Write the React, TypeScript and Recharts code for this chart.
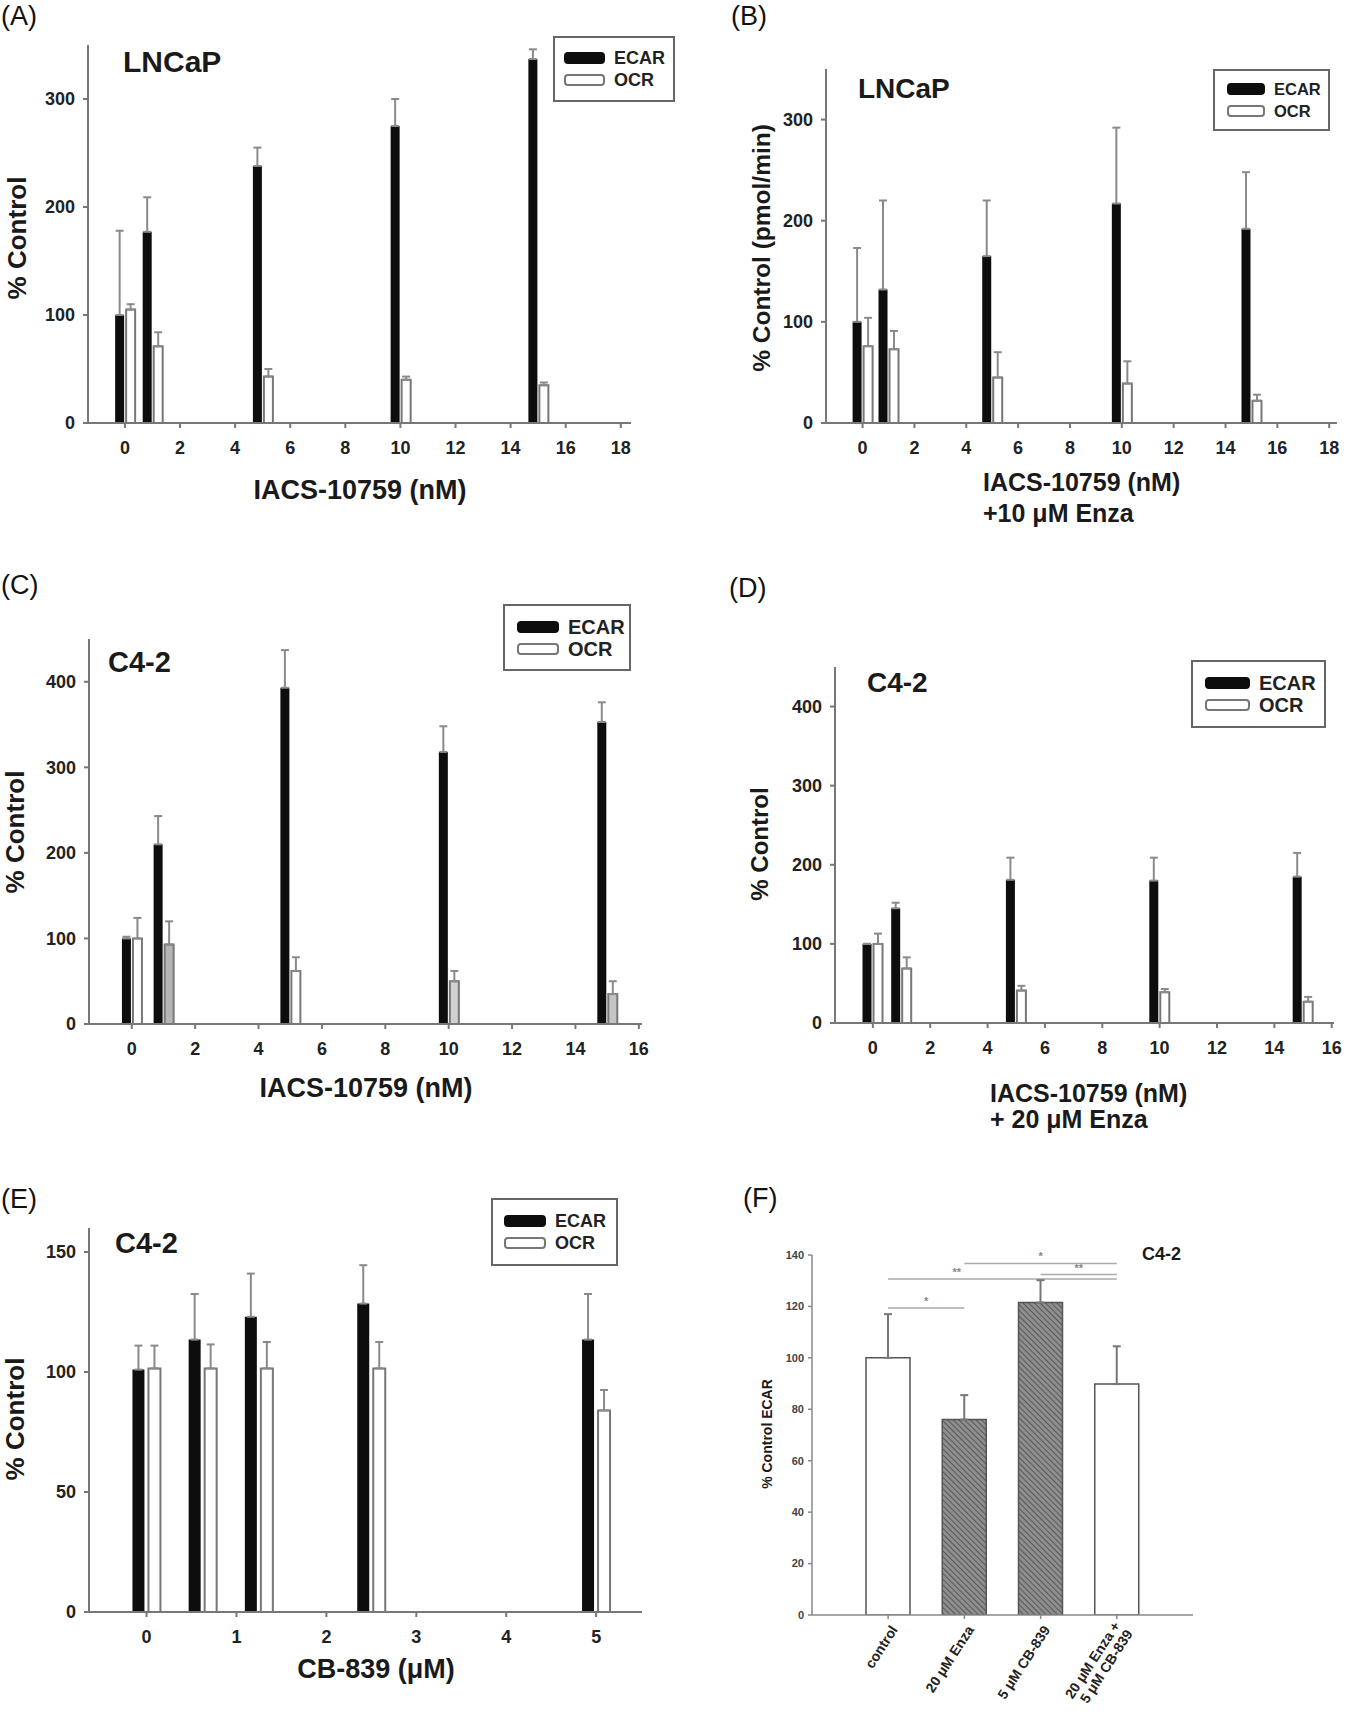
import React from "react";
import {
	BarChart,
	Bar,
	XAxis,
	YAxis,
	ErrorBar,
	Legend,
	Cell,
	ReferenceLine,
} from "recharts";

const FONT = '"Liberation Sans", Arial, Helvetica, sans-serif';

// (A) LNCaP
const A_DOSE = [0, 1, 5, 10, 15];
const A_ECAR = [100, 177, 238, 275, 337];
const A_ECAR_SD = [78, 32, 17, 25, 9];
const A_OCR = [105, 71, 43, 40, 35];
const A_OCR_SD = [5, 13, 7, 3, 2.5];

// (B) LNCaP + 10 uM Enza
const B_DOSE = [0, 1, 5, 10, 15];
const B_ECAR = [100, 132, 165, 217, 192];
const B_ECAR_SD = [73, 88, 55, 75, 56];
const B_OCR = [76, 73, 45, 39, 22];
const B_OCR_SD = [28, 18, 25, 22, 6];

// (C) C4-2
const C_DOSE = [0, 1, 5, 10, 15];
const C_ECAR = [100, 210, 393, 318, 353];
const C_ECAR_SD = [2, 33, 44, 30, 23];
const C_OCR = [100, 93, 62, 50, 35];
const C_OCR_SD = [24, 27, 16, 12, 15];

// (D) C4-2 + 20 uM Enza
const D_DOSE = [0, 1, 5, 10, 15];
const D_ECAR = [100, 145, 181, 180, 185];
const D_ECAR_SD = [0, 7, 28, 29, 30];
const D_OCR = [100, 69, 41, 39, 27];
const D_OCR_SD = [13, 14, 6, 4, 6];

// (E) C4-2, CB-839
const E_DOSE = [0, 0.625, 1.25, 2.5, 5];
const E_ECAR = [101, 113.5, 123, 128.5, 113.5];
const E_ECAR_SD = [10, 19, 18, 16, 19];
const E_OCR = [101.5, 101.5, 101.5, 101.5, 84];
const E_OCR_SD = [9.5, 10, 11, 11, 8.5];

// (F) C4-2 ECAR
const F_GROUPS = ["control", "20 μM Enza", "5 μM CB-839", "20 μM Enza +\n5 μM CB-839"];
const F_ECAR = [100, 76, 121.5, 89.8];
const F_ECAR_SD = [17, 9.5, 8.7, 14.7];
const F_SIG = [
	{ from: 0, to: 1, y: 119.4, mark: "*" },
	{ from: 0, to: 3, y: 130.7, mark: "**" },
	{ from: 1, to: 3, y: 136.7, mark: "*" },
	{ from: 2, to: 3, y: 132.4, mark: "**" },
];
const F_SIG_LABEL_AT = [0.5, 0.3, 0.5, 0.5];
const F_FILLS = ["#ffffff", "url(#hatch)", "url(#hatch)", "#ffffff"];

// OCR bar fills (some bars in C are printed light grey)
const WHITE5 = ["#fff", "#fff", "#fff", "#fff", "#fff"];
const C_OCR_FILLS = ["#fff", "#b5b5b5", "#fff", "#d0d0d0", "#c4c4c4"];

// layout of the dose panels (plot box in page pixels)
const YW = 90;
const MT = 20;
const MR = 20;
const XH = 50;

const PANELS: Record<string, any> = {
	A: {
		plot: [88, 45, 631, 423],
		xDomain: [-1.34, 18.37],
		xTicks: [0, 2, 4, 6, 8, 10, 12, 14, 16, 18],
		yMax: 350,
		yTicks: [0, 100, 200, 300],
		barSize: 9,
		barGap: 2,
		legend: { x: 553, y: 36, w: 122, h: 66, font: 18, sw: 41, pad: 9 },
	},
	B: {
		plot: [826, 69, 1337, 423],
		xDomain: [-1.41, 18.3],
		xTicks: [0, 2, 4, 6, 8, 10, 12, 14, 16, 18],
		yMax: 350,
		yTicks: [0, 100, 200, 300],
		barSize: 9,
		barGap: 2,
		legend: { x: 1213, y: 69, w: 117, h: 62, font: 16.5, sw: 38, pad: 12 },
	},
	C: {
		plot: [89, 639, 642, 1024],
		xDomain: [-1.35, 16.1],
		xTicks: [0, 2, 4, 6, 8, 10, 12, 14, 16],
		yMax: 450,
		yTicks: [0, 100, 200, 300, 400],
		barSize: 9,
		barGap: 2,
		legend: { x: 503, y: 604, w: 128, h: 67, font: 20, sw: 42, pad: 12 },
	},
	D: {
		plot: [835, 667, 1334, 1023],
		xDomain: [-1.32, 16.08],
		xTicks: [0, 2, 4, 6, 8, 10, 12, 14, 16],
		yMax: 450,
		yTicks: [0, 100, 200, 300, 400],
		barSize: 9,
		barGap: 2,
		legend: { x: 1191, y: 660, w: 135, h: 68, font: 20, sw: 45, pad: 12 },
	},
	E: {
		plot: [89, 1228, 642, 1612],
		xDomain: [-0.64, 5.51],
		xTicks: [0, 1, 2, 3, 4, 5],
		yMax: 160,
		yTicks: [0, 50, 100, 150],
		barSize: 12,
		barGap: 4,
		legend: { x: 491, y: 1198, w: 127, h: 68, font: 18, sw: 42, pad: 11 },
	},
};

const AXIS = { stroke: "#777", strokeWidth: 2 };
const TICK = { fill: "#222", fontSize: 18, fontWeight: 700, fontFamily: FONT };

function LegendBox({ w, h, font, sw, pad }: any) {
	const row = (label: string, filled: boolean) => (
		<div style={{ display: "flex", alignItems: "center", height: 22 }}>
			<div
				style={{
					width: sw,
					height: 12,
					boxSizing: "border-box",
					borderRadius: 4,
					background: filled ? "#0d0d0d" : "#fff",
					border: filled ? "2px solid #0d0d0d" : "2px solid #777",
				}}
			/>
			<span style={{ marginLeft: 9, lineHeight: 1 }}>{label}</span>
		</div>
	);
	return (
		<div
			style={{
				width: w,
				height: h,
				boxSizing: "border-box",
				border: "2px solid #666",
				background: "#fff",
				paddingLeft: pad,
				display: "flex",
				flexDirection: "column",
				justifyContent: "center",
				fontFamily: FONT,
				fontWeight: 700,
				fontSize: font,
				color: "#222",
			}}
		>
			{row("ECAR", true)}
			{row("OCR", false)}
		</div>
	);
}

function DosePanel({ spec, dose, ecar, ecarSd, ocr, ocrSd, ocrFills = WHITE5 }: any) {
	const [x0, y0, x1, y1] = spec.plot;
	const left = x0 - YW;
	const top = y0 - MT;
	const width = x1 - x0 + YW + MR;
	const height = y1 - y0 + MT + XH;
	const lg = spec.legend;
	const data = dose.map((d: number, i: number) => ({
		dose: d,
		ecar: ecar[i],
		ecarErr: [0, ecarSd[i]],
		ocr: ocr[i],
		ocrErr: [0, ocrSd[i]],
	}));

	return (
		<div style={{ position: "absolute", left, top }}>
			<BarChart
				width={width}
				height={height}
				data={data}
				barGap={spec.barGap}
				margin={{ top: MT, right: MR, bottom: 0, left: 0 }}
			>
				<XAxis
					dataKey="dose"
					type="number"
					domain={spec.xDomain}
					ticks={spec.xTicks}
					interval={0}
					allowDataOverflow
					height={XH}
					axisLine={AXIS}
					tickLine={AXIS}
					tickSize={5}
					tickMargin={13}
					tick={TICK}
				/>
				<YAxis
					type="number"
					domain={[0, spec.yMax]}
					ticks={spec.yTicks}
					interval={0}
					allowDataOverflow
					width={YW}
					axisLine={AXIS}
					tickLine={AXIS}
					tickSize={5}
					tickMargin={8}
					tick={TICK}
				/>
				<Bar
					dataKey="ecar"
					name="ECAR"
					fill="#0d0d0d"
					barSize={spec.barSize}
					isAnimationActive={false}
				>
					<ErrorBar
						dataKey="ecarErr"
						direction="y"
						width={4}
						stroke="#8a8a8a"
						strokeWidth={2}
					/>
				</Bar>
				<Bar
					dataKey="ocr"
					name="OCR"
					fill="#ffffff"
					stroke="#777"
					strokeWidth={2}
					barSize={spec.barSize}
					isAnimationActive={false}
				>
					{data.map((d: any, i: number) => (
						<Cell key={i} fill={ocrFills[i]} />
					))}
					<ErrorBar
						dataKey="ocrErr"
						direction="y"
						width={4}
						stroke="#8a8a8a"
						strokeWidth={2}
					/>
				</Bar>
				<Legend
					layout="vertical"
					align="center"
					verticalAlign="middle"
					wrapperStyle={{
						left: lg.x - left,
						top: lg.y - top,
						width: lg.w,
						height: lg.h,
					}}
					content={() => <LegendBox {...lg} />}
				/>
			</BarChart>
		</div>
	);
}

function FTick(props: any) {
	const { x, y, payload } = props;
	const lines = String(payload.value).split("\n");
	const lh = 15;
	return (
		<g transform={`translate(${x + 6},${y + 4})`}>
			<text
				transform="rotate(-57)"
				textAnchor="end"
				fontSize={14}
				fontWeight={700}
				fontFamily={FONT}
				fill="#222"
			>
				{lines.map((ln, i) => (
					<tspan key={i} x={0} y={(i - (lines.length - 1) / 2) * lh} dy="0.35em">
						{ln}
					</tspan>
				))}
			</text>
		</g>
	);
}

function EcarPanel() {
	const [x0, y0, x1, y1] = [812, 1255, 1193, 1615];
	const yw = 50;
	const mt = 20;
	const mr = 20;
	const xh = 100;
	const data = F_GROUPS.map((g, i) => ({
		group: g,
		ecar: F_ECAR[i],
		err: [0, F_ECAR_SD[i]],
	}));
	const axis = { stroke: "#888", strokeWidth: 1.5 };

	return (
		<div style={{ position: "absolute", left: x0 - yw, top: y0 - mt }}>
			<BarChart
				width={x1 - x0 + yw + mr}
				height={y1 - y0 + mt + xh}
				data={data}
				margin={{ top: mt, right: mr, bottom: 0, left: 0 }}
			>
				<XAxis
					dataKey="group"
					type="category"
					padding={{ left: 38, right: 38 }}
					height={xh}
					interval={0}
					axisLine={axis}
					tickLine={axis}
					tickSize={4}
					tickMargin={4}
					tick={(p: any) => <FTick {...p} />}
				/>
				<YAxis
					type="number"
					domain={[0, 140]}
					ticks={[0, 20, 40, 60, 80, 100, 120, 140]}
					interval={0}
					allowDataOverflow
					width={yw}
					axisLine={axis}
					tickLine={axis}
					tickSize={4}
					tickMargin={4}
					tick={{ fill: "#444", fontSize: 11, fontWeight: 700, fontFamily: FONT }}
				/>
				{F_SIG.map((s, i) => (
					<ReferenceLine
						key={i}
						segment={[
							{ x: F_GROUPS[s.from], y: s.y },
							{ x: F_GROUPS[s.to], y: s.y },
						]}
						stroke="#aaa"
						strokeWidth={1.5}
						ifOverflow="visible"
						label={(p: any) => {
							const vb = p.viewBox || {};
							return (
								<text
									x={(vb.x || 0) + (vb.width || 0) * F_SIG_LABEL_AT[i]}
									y={(vb.y || 0) - 3}
									textAnchor="middle"
									fontSize={11}
									fontWeight={700}
									fontFamily={FONT}
									fill="#888"
								>
									{s.mark}
								</text>
							);
						}}
					/>
				))}
				<Bar
					dataKey="ecar"
					barSize={44}
					stroke="#555"
					strokeWidth={1.5}
					isAnimationActive={false}
				>
					{data.map((d, i) => (
						<Cell key={d.group} fill={F_FILLS[i]} />
					))}
					<ErrorBar
						dataKey="err"
						direction="y"
						width={4}
						stroke="#777"
						strokeWidth={2}
					/>
				</Bar>
			</BarChart>
		</div>
	);
}

export default function App() {
	const bold = { fontFamily: FONT, fontWeight: 700, fill: "#1a1a1a" } as any;
	const letter = { fontFamily: FONT, fontWeight: 400, fill: "#111", fontSize: 27 } as any;
	const yLabel = (cx: number, cy: number, size: number, text: string) => (
		<text
			transform={`translate(${cx},${cy}) rotate(-90)`}
			textAnchor="middle"
			dominantBaseline="central"
			fontSize={size}
			{...bold}
		>
			{text}
		</text>
	);

	return (
		<div
			style={{
				position: "absolute",
				left: 0,
				top: 0,
				width: 1350,
				height: 1718,
				background: "#fff",
				overflow: "hidden",
				fontFamily: FONT,
			}}
		>
			<svg width={0} height={0} style={{ position: "absolute" }}>
				<defs>
					<pattern
						id="hatch"
						width={4}
						height={4}
						patternUnits="userSpaceOnUse"
						patternTransform="rotate(-45)"
					>
						<rect width={4} height={4} fill="#8e8e8e" />
						<line x1={0} y1={0} x2={0} y2={4} stroke="#4a4a4a" strokeWidth={1.6} />
					</pattern>
				</defs>
			</svg>

			<DosePanel spec={PANELS.A} dose={A_DOSE} ecar={A_ECAR} ecarSd={A_ECAR_SD} ocr={A_OCR} ocrSd={A_OCR_SD} />
			<DosePanel spec={PANELS.B} dose={B_DOSE} ecar={B_ECAR} ecarSd={B_ECAR_SD} ocr={B_OCR} ocrSd={B_OCR_SD} />
			<DosePanel spec={PANELS.C} dose={C_DOSE} ecar={C_ECAR} ecarSd={C_ECAR_SD} ocr={C_OCR} ocrSd={C_OCR_SD} ocrFills={C_OCR_FILLS} />
			<DosePanel spec={PANELS.D} dose={D_DOSE} ecar={D_ECAR} ecarSd={D_ECAR_SD} ocr={D_OCR} ocrSd={D_OCR_SD} />
			<DosePanel spec={PANELS.E} dose={E_DOSE} ecar={E_ECAR} ecarSd={E_ECAR_SD} ocr={E_OCR} ocrSd={E_OCR_SD} />
			<EcarPanel />

			{/* panel letters, titles and axis titles */}
			<svg
				width={1350}
				height={1718}
				style={{ position: "absolute", left: 0, top: 0, pointerEvents: "none" }}
			>
				<text x={1} y={25} {...letter}>(A)</text>
				<text x={731} y={25} {...letter}>(B)</text>
				<text x={1} y={594} {...letter}>(C)</text>
				<text x={729} y={597} {...letter}>(D)</text>
				<text x={1} y={1208} {...letter}>(E)</text>
				<text x={743} y={1207} {...letter}>(F)</text>

				<text x={123} y={72} fontSize={30} {...bold}>LNCaP</text>
				<text x={858} y={98} fontSize={28} {...bold}>LNCaP</text>
				<text x={108} y={672} fontSize={29} {...bold}>C4-2</text>
				<text x={867} y={692} fontSize={28} {...bold}>C4-2</text>
				<text x={115} y={1253} fontSize={29} {...bold}>C4-2</text>
				<text x={1142} y={1260} fontSize={18} {...bold}>C4-2</text>

				{yLabel(17, 238, 26, "% Control")}
				{yLabel(761, 248, 24.5, "% Control (pmol/min)")}
				{yLabel(15, 832, 26, "% Control")}
				{yLabel(759, 844, 24, "% Control")}
				{yLabel(15, 1419, 26, "% Control")}
				{yLabel(767, 1434, 14, "% Control ECAR")}

				<text x={360} y={499} textAnchor="middle" fontSize={27} {...bold}>IACS-10759 (nM)</text>
				<text x={983} y={491} fontSize={25} {...bold}>IACS-10759 (nM)</text>
				<text x={983} y={522} fontSize={25} {...bold}>+10 μM Enza</text>
				<text x={366} y={1097} textAnchor="middle" fontSize={27} {...bold}>IACS-10759 (nM)</text>
				<text x={990} y={1102} fontSize={25} {...bold}>IACS-10759 (nM)</text>
				<text x={990} y={1128} fontSize={25} {...bold}>+ 20 μM Enza</text>
				<text x={376} y={1678} textAnchor="middle" fontSize={27} {...bold}>CB-839 (μM)</text>
			</svg>
		</div>
	);
}
